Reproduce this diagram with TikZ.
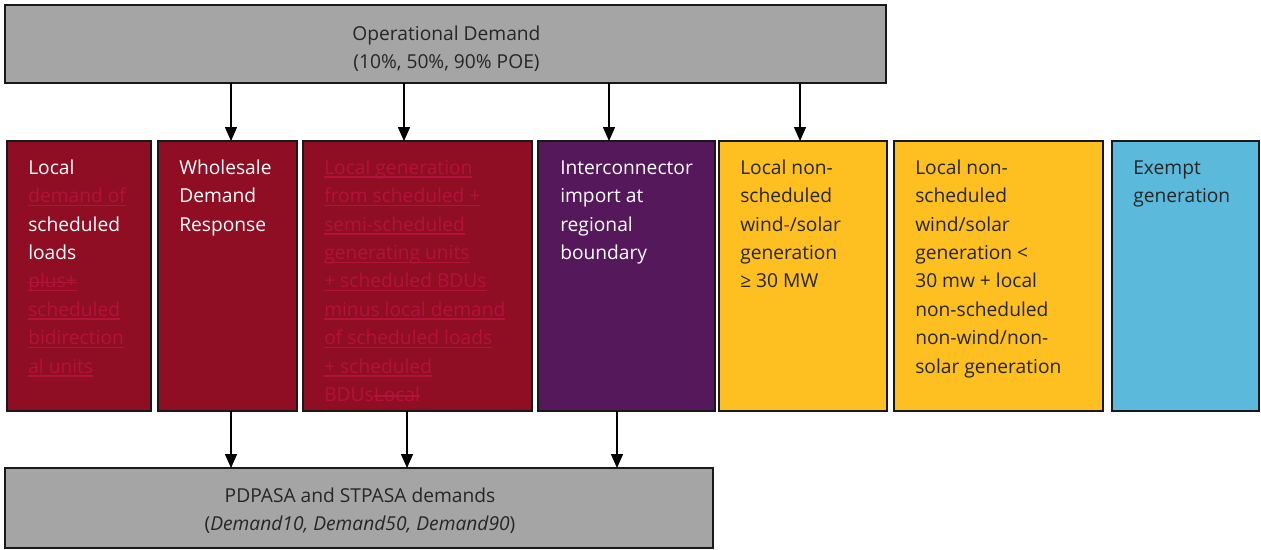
\documentclass[tikz,border=0pt]{standalone}
\usepackage{fontspec}
\setmainfont{Open Sans}
\usetikzlibrary{arrows.meta}
\definecolor{boxgrey}{HTML}{A5A5A5}
\definecolor{boxred}{HTML}{8F0E23}
\definecolor{boxpurple}{HTML}{55185A}
\definecolor{boxyellow}{HTML}{FEC020}
\definecolor{boxblue}{HTML}{5BB9DB}
\definecolor{trk}{HTML}{B3123A}
\definecolor{darktxt}{HTML}{262626}
\newsavebox\trkbox
\newcommand{\firststrut}{\rule{0pt}{11pt}}
\newcommand{\ru}[1]{\textcolor{trk}{\sbox\trkbox{#1}\rlap{\rule[-2.6pt]{\wd\trkbox}{1pt}}\usebox\trkbox}}
\newcommand{\rs}[1]{\textcolor{trk}{\sbox\trkbox{#1}\rlap{\rule[3.6pt]{\wd\trkbox}{1pt}}\usebox\trkbox}}
\newcommand{\rus}[1]{\textcolor{trk}{\sbox\trkbox{#1}\rlap{\rule[-2.6pt]{\wd\trkbox}{1pt}}\rlap{\rule[3.6pt]{\wd\trkbox}{1pt}}\usebox\trkbox}}
\tikzset{
  box/.style={draw=black!90, line width=1.1pt, anchor=north west, inner sep=0pt, outer sep=0pt},
  txt/.style={anchor=north west, inner sep=0pt, align=left, font=\fontsize{14.4pt}{21.3pt}\selectfont},
  ctxt/.style={inner sep=0pt, align=center, text=darktxt, font=\fontsize{14.4pt}{21pt}\selectfont},
  arr/.style={line width=1.1pt, -{Triangle[length=10.5pt,width=9pt]}},
}
\begin{document}
\begin{tikzpicture}[x=0.75pt,y=-0.75pt]
\useasboundingbox (0,0) rectangle (1261,550);
\fill[white] (0,0) rectangle (1261,550);
% top and bottom boxes
\node[box, fill=boxgrey, minimum width=660.75pt, minimum height=58.5pt] (top) at (5,5) {};
\node[box, fill=boxgrey, minimum width=531pt, minimum height=60pt] (bot) at (5,468) {};
% middle boxes
\node[box, fill=boxred, minimum width=108pt, minimum height=202.5pt] (b1) at (7,141) {};
\node[box, fill=boxred, minimum width=104.25pt, minimum height=202.5pt] (b2) at (158,141) {};
\node[box, fill=boxred, minimum width=171.75pt, minimum height=202.5pt] (b3) at (303,141) {};
\node[box, fill=boxpurple, minimum width=132.75pt, minimum height=202.5pt] (b4) at (538,141) {};
\node[box, fill=boxyellow, minimum width=126pt, minimum height=202.5pt] (b5) at (719,141) {};
\node[box, fill=boxyellow, minimum width=156.75pt, minimum height=202.5pt] (b6) at (894,141) {};
\node[box, fill=boxblue, minimum width=110.25pt, minimum height=202.5pt] (b7) at (1112,141) {};
% texts
\node[ctxt] (ttop) at ([shift={(1,5)}]top.center) {Operational Demand\\(10\%, 50\%, 90\% POE)};
\node[ctxt] (tbot) at ([shift={(1,3)}]bot.center) {PDPASA and STPASA demands\\(\textit{Demand10, Demand50, Demand90})};
\node[txt, text=white] (t1) at ([shift={(21,18.3)}]b1.north west) {\firststrut Local\\\ru{demand of}\\scheduled\\loads\\\rus{plus+}\\\ru{scheduled}\\\ru{bidirection}\\\ru{al units}};
\node[txt, text=white] (t2) at ([shift={(21,18.3)}]b2.north west) {\firststrut Wholesale\\Demand\\Response};
\node[txt, text=white] (t3) at ([shift={(21,18.3)}]b3.north west) {\firststrut\ru{Local generation}\\\ru{from scheduled +}\\\ru{semi-scheduled}\\\ru{generating units}\\\ru{+ scheduled BDUs}\\\ru{minus local demand}\\\ru{of scheduled loads}\\\ru{+ scheduled}\\\textcolor{trk}{BDUs}\rs{Local}};
\node[txt, text=white] (t4) at ([shift={(22,18.3)}]b4.north west) {\firststrut Interconnector\\import at\\regional\\boundary};
\node[txt, text=darktxt] (t5) at ([shift={(21,18.3)}]b5.north west) {\firststrut Local non-\\scheduled\\wind\textcolor{trk}{-}/solar\\generation\\≥ 30 MW};
\node[txt, text=darktxt] (t6) at ([shift={(21,18.3)}]b6.north west) {\firststrut Local non-\\scheduled\\wind/solar\\generation <\\30 mw + local\\non-scheduled\\non-wind/non-\\solar generation};
\node[txt, text=darktxt] (t7) at ([shift={(21,18.3)}]b7.north west) {\firststrut Exempt\\generation};
% arrow positions
\coordinate (a1) at (231,0);
\coordinate (a2) at (404,0);
\coordinate (a3) at (609,0);
\coordinate (a4) at (800,0);
\coordinate (c1) at (231,0);
\coordinate (c2) at (407,0);
\coordinate (c3) at (617,0);
\draw[arr] (top.south -| a1) -- (b2.north -| a1);
\draw[arr] (top.south -| a2) -- (b3.north -| a2);
\draw[arr] (top.south -| a3) -- (b4.north -| a3);
\draw[arr] (top.south -| a4) -- (b5.north -| a4);
\draw[arr] (b2.south -| c1) -- (bot.north -| c1);
\draw[arr] (b3.south -| c2) -- (bot.north -| c2);
\draw[arr] (b4.south -| c3) -- (bot.north -| c3);
\end{tikzpicture}
\end{document}
